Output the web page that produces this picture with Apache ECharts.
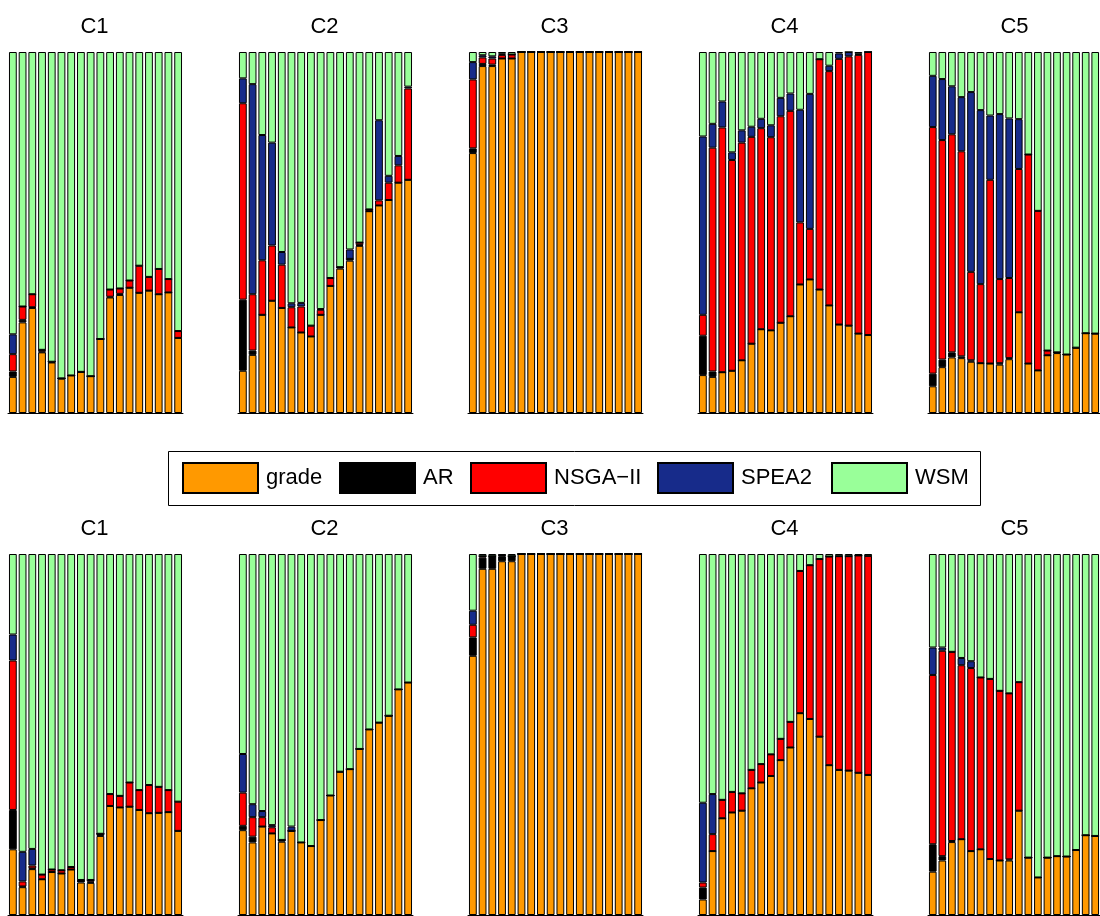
<!DOCTYPE html>
<html>
<head>
<meta charset="utf-8">
<script src="https://cdn.jsdelivr.net/npm/echarts@6/dist/echarts.min.js"></script>
<style>html,body{margin:0;padding:0;background:#fff}#chart{width:1100px;height:916px}</style>
</head>
<body>
<div id="chart"></div>
<script>
const categories = ['1','2','3','4','5','6','7','8','9','10','11','12','13','14','15','16','17','18'];
const panelTitles = ['C1','C2','C3','C4','C5'];
const methodNames = ['grade','AR','NSGA\u2212II','SPEA2','WSM'];
const methodColors = ['#ff9900','#000000','#ff0000','#172b8a','#99ff99'];

// Top row (panels C1..C5), values in % per bar
const gradeTop = [
  [10.0,25.1,29.1,16.8,14.0,9.5,10.4,11.4,10.2,20.5,32.0,32.7,34.7,33.3,33.9,32.9,33.4,20.8],
  [11.7,16.1,27.2,31.1,29.1,23.7,22.3,21.2,27.2,35.2,40.0,42.2,46.3,55.9,57.5,59.0,63.8,64.6],
  [72.0,96.1,96.1,98.2,98.2,100,100,100,100,100,100,100,100,100,100,100,100,100],
  [10.5,10.0,11.3,11.7,14.6,19.2,23.2,22.9,25.0,26.8,35.6,37.0,34.2,29.8,24.5,24.2,22.0,21.6],
  [7.4,12.7,15.4,15.2,14.2,13.8,13.7,13.4,14.9,27.9,13.7,11.8,16.0,16.6,16.2,18.1,22.1,22.0]
];
const arTop = [
  [1.5,0.7,0.2,0.2,0.2,0.1,0,0,0,0,0.2,0.3,0,0,0,0,0,0],
  [19.7,1.2,0,0,0,0,0,0,0,0,0.4,0.5,0.2,0,0,0,0,0],
  [1.3,0.6,0.4,0,0,0,0,0,0,0,0,0,0,0,0,0,0,0],
  [10.9,1.5,0,0,0,0,0,0,0,0,0,0,0,0,0,0,0,0],
  [3.5,2.1,1.4,0.5,0.4,0,0,0.4,0.3,0,0,0,0,0.2,0,0,0,0]
];
const nsgaTop = [
  [4.8,3.7,3.6,0.5,0,0,0,0,0,0,2.0,1.5,2.0,7.5,3.8,7.0,3.7,1.9],
  [54.4,15.6,15.1,15.3,12.0,5.6,7.2,3.0,1.4,2.2,0,0,0.7,0.5,1.4,4.8,4.8,25.3],
  [19.1,1.8,1.7,1.0,1.1,0,0,0,0,0,0,0,0,0,0,0,0,0],
  [5.8,62.0,67.8,58.4,60.3,57.3,55.7,53.5,57.2,56.9,17.2,14.0,63.8,64.9,73.6,74.6,77.2,78.4],
  [68.3,60.8,60.4,56.8,24.5,21.9,50.9,23.3,22.2,39.7,57.9,44.2,1.3,0,0,0,0,0]
];
const speaTop = [
  [5.5,0,0,0,0,0,0,0,0,0,0,0,0,0,0,0,0,0],
  [6.9,58.2,34.7,28.5,3.5,1.1,1.0,0,0.2,0,0,2.6,0,0,22.2,1.9,2.6,0.5],
  [4.8,0.6,0.6,0.3,0,0,0,0,0,0,0,0,0,0,0,0,0,0],
  [49.4,6.6,7.2,2.1,3.4,2.8,2.6,3.3,5.1,4.8,31.2,37.4,0,1.5,1.5,1.2,0.3,0],
  [14.2,16.9,13.3,15.0,49.8,48.2,17.8,45.7,44.2,13.8,0,0,0,0,0,0,0,0]
];
const wsmTop = [
  [78.2,70.5,67.1,82.5,85.8,90.4,89.6,88.6,89.8,79.5,65.8,65.5,63.3,59.2,62.3,60.1,62.9,77.3],
  [7.3,8.9,23.0,25.1,55.4,69.6,69.5,75.8,71.2,62.6,59.6,54.7,52.8,43.6,18.9,34.3,28.8,9.6],
  [2.8,0.9,1.2,0.5,0.7,0,0,0,0,0,0,0,0,0,0,0,0,0],
  [23.4,19.9,13.7,27.8,21.7,20.7,18.5,20.3,12.7,11.5,16.0,11.6,2.0,3.8,0.4,0,0.5,0],
  [6.6,7.5,9.5,12.5,11.1,16.1,17.6,17.2,18.4,18.6,28.4,44.0,82.7,83.2,83.8,81.9,77.9,78.0]
];

// Bottom row (panels C1..C5)
const gradeBot = [
  [18.2,7.7,12.7,9.9,11.9,11.5,12.6,9.0,8.9,21.9,30.2,29.8,30.0,29.1,28.2,28.3,28.5,23.3],
  [23.5,20.1,24.5,22.6,20.3,23.3,20.1,19.1,26.3,33.1,39.7,40.4,46.0,51.4,53.3,55.2,62.5,64.4],
  [71.8,95.9,95.9,98.0,98.0,100,100,100,100,100,100,100,100,100,100,100,100,100],
  [4.3,17.7,26.8,28.4,28.9,35.1,36.7,38.5,42.9,46.4,55.9,54.3,49.4,41.5,40.2,40.0,39.4,38.8],
  [12.0,15.1,20.2,21.0,17.7,18.2,15.5,15.1,15.1,28.9,15.9,10.4,15.9,16.3,16.2,18.0,22.1,21.9]
];
const arBot = [
  [10.9,0.2,0.2,0,0,0,0,0.7,0.3,0.6,0,0,0,0,0,0,0,0],
  [1.2,1.6,0,0,0.5,0,0,0,0,0,0,0,0,0,0,0,0,0],
  [5.1,3.1,3.4,1.4,1.4,0,0,0,0,0,0,0,0,0,0,0,0,0],
  [3.3,0,0,0,0,0,0,0,0,0,0,0,0,0,0,0,0,0],
  [7.6,1.2,0.3,0,0,0,0,0,0.3,0,0,0,0,0,0,0,0,0]
];
const nsgaBot = [
  [41.4,1.4,0.8,1.3,0.7,0.9,0.7,0,0.5,0,3.3,3.2,6.7,5.5,7.8,7.2,6.1,8.1],
  [9.2,5.4,2.6,1.7,0,0,0,0,0,0,0,0,0,0,0,0,0,0],
  [3.5,0.4,0.1,0.3,0,0,0,0,0,0,0,0,0,0,0,0,0,0],
  [1.4,4.7,5.1,5.7,4.8,5.1,5.1,6.0,5.9,7.1,39.4,42.6,49.2,57.8,59.2,59.4,60.2,60.7],
  [46.9,56.9,52.4,48.2,50.7,47.6,49.9,47.0,46.0,35.6,0,0,0,0,0,0,0,0]
];
const speaBot = [
  [7.2,8.2,4.6,0,0,0,0,0,0,0,0,0,0,0,0,0,0,0],
  [10.7,3.6,1.7,0.6,0,1.2,0,0,0,0,0,0,0,0,0,0,0,0],
  [3.9,0,0,0,0,0,0,0,0,0,0,0,0,0,0,0,0,0],
  [22.1,11.1,0,0,0,0,0,0,0,0,0,0,0,0,0,0,0,0],
  [7.6,0.9,0,2.0,1.9,0,0,0,0,0,0,0,0,0,0,0,0,0]
];
const wsmBot = [
  [22.3,82.5,81.7,88.8,87.4,87.6,86.7,90.3,90.3,77.5,66.5,67.0,63.3,65.4,64.0,64.5,65.4,68.6],
  [55.4,69.3,71.2,75.1,79.2,75.5,79.9,80.9,73.7,66.9,60.3,59.6,54.0,48.6,46.7,44.8,37.5,35.6],
  [15.7,0.6,0.6,0.3,0.6,0,0,0,0,0,0,0,0,0,0,0,0,0],
  [68.9,66.5,68.1,65.9,66.3,59.8,58.2,55.5,51.2,46.5,4.7,3.1,1.4,0.7,0.6,0.6,0.4,0.5],
  [25.9,25.9,27.1,28.8,29.7,34.2,34.6,37.9,38.6,35.5,84.1,89.6,84.1,83.7,83.8,82.0,77.9,78.1]
];

const rows = [
  {top: 52, titleY: 27, data: [gradeTop, arTop, nsgaTop, speaTop, wsmTop]},
  {top: 554, titleY: 529, data: [gradeBot, arBot, nsgaBot, speaBot, wsmBot]}
];
const panelLefts = [8, 238, 468, 698, 928];
const panelWidth = 175, panelHeight = 361;
const font = 'Liberation Sans, Arial, Helvetica, sans-serif';

const grids = [], xAxes = [], yAxes = [], series = [], graphics = [];
rows.forEach((row, r) => {
  panelLefts.forEach((left, p) => {
    const idx = r * 5 + p;
    grids.push({left: left, top: row.top, width: panelWidth, height: panelHeight, containLabel: false});
    xAxes.push({type: 'category', gridIndex: idx, data: categories, boundaryGap: true,
      axisLine: {show: true, lineStyle: {color: '#000', width: 1}},
      axisTick: {show: false}, axisLabel: {show: false}, splitLine: {show: false}});
    yAxes.push({type: 'value', gridIndex: idx, min: 0, max: 100, show: false, splitLine: {show: false}});
    graphics.push({type: 'text', x: left + panelWidth / 2 - 1, y: row.titleY,
      style: {text: panelTitles[p], fill: '#000', font: '22px ' + font, textAlign: 'center', textVerticalAlign: 'middle'}});
    methodNames.forEach((name, m) => {
      series.push({
        type: 'bar', name: name, xAxisIndex: idx, yAxisIndex: idx, stack: 'p' + idx,
        data: row.data[m][p], barCategoryGap: '20%', animation: false,
        itemStyle: {color: methodColors[m], borderColor: '#000', borderWidth: 1}
      });
    });
  });
});

graphics.push({type: 'rect', shape: {x: 168.5, y: 451.5, width: 812, height: 54},
  style: {fill: 'none', stroke: '#000', lineWidth: 1}, z: 100});

const legendLefts = [182, 339, 470, 657, 831];
const legends = methodNames.map((name, m) => ({
  data: [name], left: legendLefts[m], top: 462, padding: 0, itemWidth: 75, itemHeight: 30,
  icon: 'rect', selectedMode: false,
  textStyle: {fontFamily: font, fontSize: 22, color: '#000', padding: [0, 0, 0, 3]}
}));

const chart = echarts.init(document.getElementById('chart'), null, {renderer: 'canvas'});
chart.setOption({
  animation: false,
  backgroundColor: '#fff',
  grid: grids,
  xAxis: xAxes,
  yAxis: yAxes,
  legend: legends,
  graphic: graphics,
  series: series
});
</script>
</body>
</html>
